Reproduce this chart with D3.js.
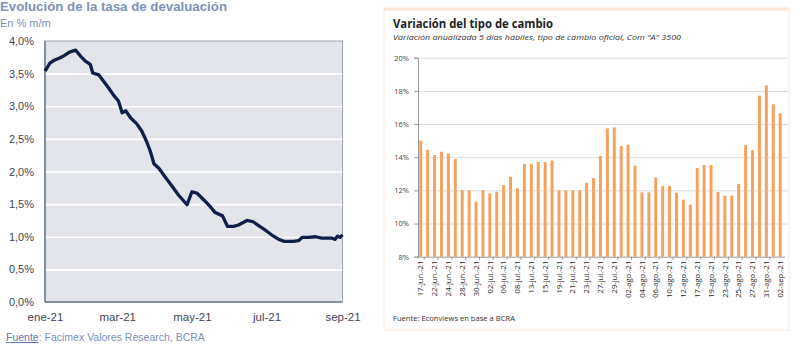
<!DOCTYPE html>
<html><head><meta charset="utf-8">
<script src="https://cdn.jsdelivr.net/npm/d3@7"></script>
<style>
html,body{margin:0;padding:0;background:#fff;}
svg{display:block;}
</style></head>
<body>
<script>
// ---------- Left chart data ----------
const devalDates = ["2021-01-01","2021-01-05","2021-01-09","2021-01-13","2021-01-17","2021-01-21","2021-01-26","2021-01-30",
"2021-02-03","2021-02-07","2021-02-09","2021-02-14","2021-02-18","2021-02-22","2021-02-26","2021-03-02","2021-03-05",
"2021-03-08","2021-03-12","2021-03-17","2021-03-21","2021-03-25","2021-03-28","2021-03-31","2021-04-04","2021-04-09",
"2021-04-15","2021-04-20","2021-04-27","2021-05-01","2021-05-05","2021-05-11","2021-05-16","2021-05-20","2021-05-26",
"2021-05-30","2021-06-04","2021-06-08","2021-06-15","2021-06-20","2021-06-26","2021-06-30","2021-07-05","2021-07-11",
"2021-07-15","2021-07-23","2021-07-27","2021-07-30","2021-08-04","2021-08-10","2021-08-15","2021-08-23","2021-08-26",
"2021-08-28","2021-08-30","2021-09-01"];
const devalValues = [3.54,3.66,3.71,3.74,3.78,3.83,3.86,3.77,
3.69,3.64,3.51,3.48,3.38,3.28,3.17,3.08,2.90,
2.93,2.82,2.73,2.62,2.46,2.31,2.12,2.05,1.92,
1.77,1.64,1.49,1.69,1.67,1.56,1.46,1.37,1.32,
1.16,1.16,1.18,1.25,1.23,1.15,1.10,1.03,0.96,
0.93,0.93,0.94,0.99,0.99,1.00,0.98,0.98,0.96,
1.01,0.99,1.03];
const leftYTicks = [0,0.5,1,1.5,2,2.5,3,3.5,4];
const leftXTicks = ["2021-01-01","2021-03-01","2021-05-01","2021-07-01","2021-09-01"];
const leftXLabels = ["ene-21","mar-21","may-21","jul-21","sep-21"];

// ---------- Right chart data ----------
const fxDates = ["17-jun.-21","18-jun.-21","22-jun.-21","23-jun.-21","24-jun.-21","25-jun.-21","28-jun.-21","29-jun.-21",
"30-jun.-21","01-jul.-21","02-jul.-21","05-jul.-21","06-jul.-21","07-jul.-21","08-jul.-21","12-jul.-21","13-jul.-21",
"14-jul.-21","15-jul.-21","16-jul.-21","19-jul.-21","20-jul.-21","21-jul.-21","22-jul.-21","23-jul.-21","26-jul.-21",
"27-jul.-21","28-jul.-21","29-jul.-21","30-jul.-21","02-ago.-21","03-ago.-21","04-ago.-21","05-ago.-21","06-ago.-21",
"09-ago.-21","10-ago.-21","11-ago.-21","12-ago.-21","13-ago.-21","17-ago.-21","18-ago.-21","19-ago.-21","20-ago.-21",
"23-ago.-21","24-ago.-21","25-ago.-21","26-ago.-21","27-ago.-21","30-ago.-21","31-ago.-21","01-sep.-21","02-sep.-21"];
const fxValues = [15.0,14.45,14.13,14.33,14.23,13.89,12.02,12.0,
11.32,12.0,11.82,11.92,12.32,12.82,12.12,13.59,13.59,
13.71,13.71,13.8,12.0,12.0,12.0,12.0,12.46,12.74,
14.07,15.74,15.8,14.67,14.75,13.49,11.88,11.88,12.78,
12.26,12.26,11.86,11.44,11.14,13.35,13.53,13.53,11.9,
11.68,11.68,12.38,14.73,14.43,17.71,18.33,17.19,16.64];
const rightYTicks = [8,10,12,14,16,18,20];

const W = 800, H = 350;
const svg = d3.select("body").append("svg").attr("width", W).attr("height", H);

// ================= LEFT CHART =================
const LF = "'Liberation Sans', Arial, sans-serif";
const blueGray = "#7d91b8";
svg.append("text").attr("x", 0).attr("y", 11).text("Evolución de la tasa de devaluación")
  .attr("font-family", LF).attr("font-weight", "bold").attr("font-size", 12.5).attr("fill", blueGray)
  .attr("textLength", 227).attr("lengthAdjust", "spacingAndGlyphs");
svg.append("text").attr("x", 0).attr("y", 27).text("En % m/m")
  .attr("font-family", LF).attr("font-size", 11).attr("fill", blueGray);

const parse = d3.timeParse("%Y-%m-%d");
const lx = d3.scaleTime().domain([parse("2021-01-01"), parse("2021-09-01")]).range([45, 342.5]);
const ly = d3.scaleLinear().domain([0, 4]).range([302, 41]);

const lg = svg.append("g");
lg.append("rect").attr("x", lx.range()[0]).attr("y", ly(4)).attr("width", lx.range()[1] - lx.range()[0])
  .attr("height", ly(0) - ly(4)).attr("fill", "#e4e5ea").attr("stroke", "#9aa4b4").attr("stroke-width", 1);

// grid
lg.append("g").attr("transform", `translate(${lx.range()[0]},0)`)
  .call(d3.axisLeft(ly).tickValues(leftYTicks.filter(d => d > 0 && d < 4)).tickSize(-(lx.range()[1] - lx.range()[0])).tickFormat(""))
  .call(g => g.select(".domain").remove())
  .call(g => g.selectAll("line").attr("stroke", "#ffffff").attr("stroke-width", 1.6));

// y labels
lg.append("g").attr("transform", `translate(${lx.range()[0]},0)`)
  .call(d3.axisLeft(ly).tickValues(leftYTicks).tickSize(0).tickPadding(11)
    .tickFormat(d => d3.format(".1f")(d).replace(".", ",") + "%"))
  .call(g => g.select(".domain").remove())
  .call(g => g.selectAll("text").attr("font-family", LF).attr("font-size", 11).attr("fill", "#3f4657"));

// x labels
lg.append("g").attr("transform", `translate(0,${ly(0)})`)
  .call(d3.axisBottom(lx).tickValues(leftXTicks.map(parse)).tickSize(0).tickPadding(11)
    .tickFormat((d, i) => leftXLabels[i]))
  .call(g => g.select(".domain").remove())
  .call(g => g.selectAll("text").attr("font-family", LF).attr("font-size", 11.5).attr("fill", "#3f4657"));

// axis lines left & bottom
lg.append("line").attr("x1", lx.range()[0]).attr("x2", lx.range()[0]).attr("y1", ly(4)).attr("y2", ly(0))
  .attr("stroke", "#6f7d93").attr("stroke-width", 1.5);
lg.append("line").attr("x1", lx.range()[0]).attr("x2", lx.range()[1]).attr("y1", ly(0)).attr("y2", ly(0))
  .attr("stroke", "#6f7d93").attr("stroke-width", 1.5);

const lineData = devalDates.map((d, i) => ({ d: parse(d), v: devalValues[i] }));
lg.append("path").datum(lineData)
  .attr("d", d3.line().x(p => lx(p.d)).y(p => ly(p.v)).curve(d3.curveLinear))
  .attr("fill", "none").attr("stroke", "#0f1f47").attr("stroke-width", 3.3).attr("stroke-linejoin", "round");

const src = svg.append("text").attr("x", 6).attr("y", 341).attr("font-family", LF).attr("font-size", 10.5);
src.append("tspan").text("Fuente").attr("fill", "#5f7ab3").attr("text-decoration", "underline");
src.append("tspan").text(": Facimex Valores Research, BCRA").attr("fill", blueGray);

// ================= RIGHT CHART =================
const RF = "'Open Sans', 'Liberation Sans', sans-serif";
const rg = svg.append("g");
rg.append("rect").attr("x", 384).attr("y", 9).attr("width", 405).attr("height", 321)
  .attr("fill", "#ffffff").attr("stroke", "#fbe8da").attr("stroke-width", 1);
rg.append("rect").attr("x", 384).attr("y", 7.5).attr("width", 405).attr("height", 3).attr("fill", "#fce3d2");

rg.append("text").attr("x", 393).attr("y", 28.3).text("Variación del tipo de cambio")
  .attr("font-family", RF).attr("font-weight", "bold").attr("font-size", 11.5).attr("fill", "#222")
  .attr("textLength", 160).attr("lengthAdjust", "spacingAndGlyphs");
rg.append("text").attr("x", 393).attr("y", 39.5).text("Variación anualizada 5 días hábiles, tipo de cambio oficial, Com \"A\" 3500")
  .attr("font-family", RF).attr("font-style", "italic").attr("font-size", 8).attr("fill", "#333")
  .attr("textLength", 288).attr("lengthAdjust", "spacingAndGlyphs");

const rx = d3.scaleBand().domain(fxDates).range([417.3, 783.6]).paddingInner(0.57).paddingOuter(0.28);
const ry = d3.scaleLinear().domain([8, 20]).range([256.7, 57.7]);

// grid
rg.append("g").attr("transform", `translate(418,0)`)
  .call(d3.axisLeft(ry).tickValues(rightYTicks.filter(d => d > 8)).tickSize(-370).tickFormat(""))
  .call(g => g.select(".domain").remove())
  .call(g => g.selectAll("line").attr("stroke", "#dcdcdc").attr("stroke-width", 1));

// y axis
rg.append("g").attr("transform", `translate(418,0)`)
  .call(d3.axisLeft(ry).tickValues(rightYTicks).tickSize(4).tickPadding(5).tickFormat(d => d + "%"))
  .call(g => g.select(".domain").attr("stroke", "#9a9a9a"))
  .call(g => g.selectAll("line").attr("stroke", "#9a9a9a"))
  .call(g => g.selectAll("text").attr("font-family", RF).attr("font-size", 7.5).attr("fill", "#444"));

// bars
rg.append("g").selectAll("rect").data(fxDates).join("rect")
  .attr("x", d => rx(d)).attr("width", rx.bandwidth())
  .attr("y", (d, i) => ry(fxValues[i])).attr("height", (d, i) => ry(8) - ry(fxValues[i]))
  .attr("fill", "#f5a25f");

// x axis
const xAxis = rg.append("g").attr("transform", `translate(0,${ry(8)})`)
  .call(d3.axisBottom(rx).tickValues(fxDates.filter((d, i) => i % 2 === 0)).tickSize(0).tickPadding(0))
  .call(g => g.select(".domain").attr("stroke", "#9a9a9a").attr("d", `M417.3,0.5H785`));
xAxis.selectAll("text").attr("font-family", RF).attr("font-size", 7.6).attr("fill", "#2a2a2a")
  .attr("text-anchor", "end").attr("dy", "0.35em")
  .attr("transform", "translate(0,4) rotate(-90)").attr("x", 0).attr("y", 0);
// tick marks at every other category boundary
rg.append("g").selectAll("line").data(fxDates.filter((d, i) => i % 2 === 1)).join("line")
  .attr("x1", d => rx(d) - rx.step() * 0.5 + rx.bandwidth() / 2).attr("x2", d => rx(d) - rx.step() * 0.5 + rx.bandwidth() / 2)
  .attr("y1", ry(8)).attr("y2", ry(8) + 3).attr("stroke", "#9a9a9a");

rg.append("text").attr("x", 393).attr("y", 320.5).text("Fuente: Econviews en base a BCRA")
  .attr("font-family", RF).attr("font-size", 7.6).attr("fill", "#333");
</script>
</body></html>
